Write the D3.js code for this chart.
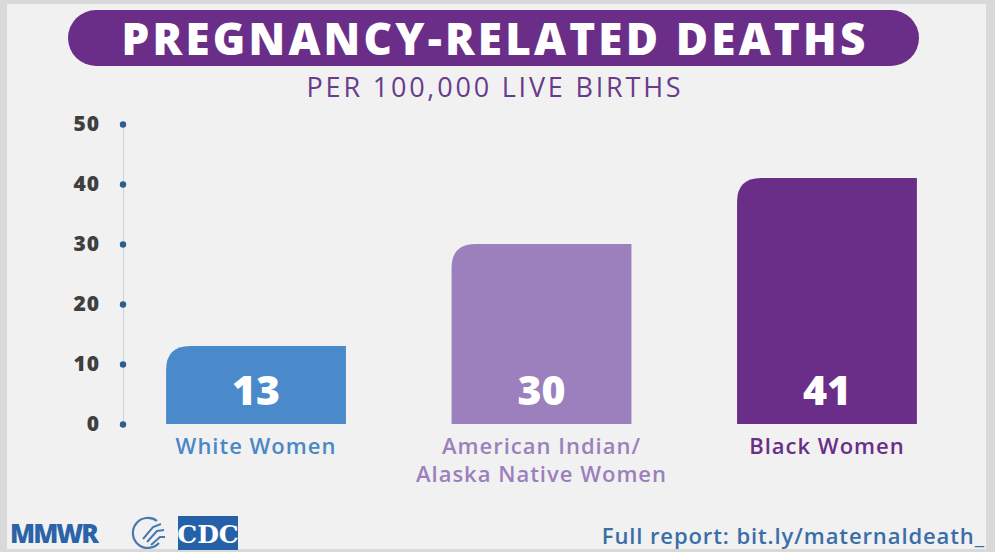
<!DOCTYPE html>
<html>
<head>
<meta charset="utf-8">
<script src="https://cdn.jsdelivr.net/npm/d3@7"></script>
<style>
  body { margin: 0; background: #d9d9d9; }
  svg { display: block; font-family: "Open Sans", "Noto Sans", sans-serif; }
</style>
</head>
<body>
<script>
// data
var groups = ["White Women", "American Indian/Alaska Native Women", "Black Women"];
var groupLines = [["White Women"], ["American Indian/", "Alaska Native Women"], ["Black Women"]];
var deaths = [13, 30, 41];
var yTicks = [0, 10, 20, 30, 40, 50];
var barColors = ["#4a8acb", "#9b80bd", "#6a2e88"];
var labelColors = ["#4a88c6", "#9b80bd", "#6a2e88"];

var W = 995, H = 552;

var svg = d3.select("body").append("svg")
    .attr("width", W)
    .attr("height", H);

// panel
svg.append("rect")
    .attr("x", 7).attr("y", 4)
    .attr("width", 979).attr("height", 545)
    .attr("fill", "#f1f1f1");

// title pill
svg.append("rect")
    .attr("x", 68).attr("y", 10)
    .attr("width", 851).attr("height", 56)
    .attr("rx", 28)
    .attr("fill", "#6a2e88");

svg.append("text")
    .attr("x", 495).attr("y", 55)
    .attr("text-anchor", "middle")
    .attr("fill", "#fff")
    .attr("letter-spacing", "3.2")
    .style("font-size", "44px")
    .style("font-weight", 800)
    .text("PREGNANCY-RELATED DEATHS");

svg.append("text")
    .attr("x", 495).attr("y", 97)
    .attr("text-anchor", "middle")
    .attr("fill", "#6a3a8c")
    .attr("letter-spacing", "2.8")
    .style("font-size", "27px")
    .style("font-weight", 400)
    .text("PER 100,000 LIVE BIRTHS");

// scales
var y = d3.scaleLinear()
    .domain([0, 50])
    .range([424, 124]);

var x = d3.scaleBand()
    .domain(groups)
    .range([109, 974])
    .paddingInner(0.37)
    .paddingOuter(0.2);

// y axis
var yAxis = svg.append("g")
    .attr("class", "y axis")
    .attr("transform", "translate(123,0)")
    .call(d3.axisLeft(y).tickValues(yTicks).tickSize(0).tickPadding(23));

yAxis.select(".domain")
    .attr("stroke", "#cfd3da")
    .attr("stroke-width", 1.2);

yAxis.selectAll(".tick text")
    .attr("fill", "#3f3f3f")
    .attr("letter-spacing", "1")
    .style("font-size", "21px")
    .style("font-weight", 800)
    .style("font-family", "'Open Sans', sans-serif");

yAxis.selectAll(".tick")
    .append("circle")
    .attr("r", 3.2)
    .attr("fill", "#2f5e8e");

// bars with rounded top-left corner
function barPath(x0, y0, w, h, r) {
  r = Math.min(r, h, w);
  return "M" + x0 + "," + (y0 + h) +
    "V" + (y0 + r) +
    "Q" + x0 + "," + y0 + " " + (x0 + r) + "," + y0 +
    "H" + (x0 + w) +
    "V" + (y0 + h) + "Z";
}

svg.selectAll(".bar")
    .data(groups)
  .enter().append("path")
    .attr("class", "bar")
    .attr("fill", function(d, i) { return barColors[i]; })
    .attr("d", function(d, i) {
      return barPath(x(d), y(deaths[i]), x.bandwidth(), y(0) - y(deaths[i]), 24);
    });

// value labels
svg.selectAll(".val")
    .data(groups)
  .enter().append("text")
    .attr("class", "val")
    .attr("x", function(d) { return x(d) + x.bandwidth() / 2; })
    .attr("y", 405)
    .attr("text-anchor", "middle")
    .attr("fill", "#fff")
    .style("font-size", "41px")
    .style("font-weight", 800)
    .text(function(d, i) { return deaths[i]; });

// category labels
groups.forEach(function(g, i) {
  var t = svg.append("text")
      .attr("x", x(g) + x.bandwidth() / 2)
      .attr("y", 454)
      .attr("text-anchor", "middle")
      .attr("fill", labelColors[i])
      .attr("letter-spacing", "1")
      .style("font-size", "22px")
      .style("font-weight", 600);
  groupLines[i].forEach(function(line, j) {
    t.append("tspan")
      .attr("x", x(g) + x.bandwidth() / 2)
      .attr("dy", j == 0 ? 0 : 28)
      .text(line);
  });
});

// footer
svg.append("text")
    .attr("x", 10).attr("y", 543)
    .attr("fill", "#2a63a8")
    .attr("letter-spacing", "-2")
    .style("font-size", "26px")
    .style("font-weight", 800)
    .text("MMWR");

// hhs mark
var hhs = svg.append("g").attr("transform", "translate(147,533)");
hhs.append("path")
    .attr("d", "M10,-12 A15,15 0 1 0 12,10")
    .attr("fill", "none")
    .attr("stroke", "#4a78b0")
    .attr("stroke-width", 2.2);
hhs.append("path")
    .attr("d", "M-4,6 L6,-6 L14,-9 M0,9 L10,-2 L17,-3 M4,12 L13,4 L18,4")
    .attr("fill", "none")
    .attr("stroke", "#4a78b0")
    .attr("stroke-width", 2);

// cdc box
svg.append("rect")
    .attr("x", 178).attr("y", 516)
    .attr("width", 60).attr("height", 34)
    .attr("fill", "#2461a8");
svg.append("text")
    .attr("x", 208).attr("y", 543)
    .attr("text-anchor", "middle")
    .attr("fill", "#fff")
    .style("font-family", "'DejaVu Serif', serif")
    .style("font-size", "25px")
    .style("font-weight", 700)
    .text("CDC");

svg.append("text")
    .attr("x", 985).attr("y", 544)
    .attr("text-anchor", "end")
    .attr("fill", "#3a6ea6")
    .attr("letter-spacing", "0.9")
    .style("font-size", "22px")
    .style("font-weight", 600)
    .text("Full report: bit.ly/maternaldeath_");
</script>
</body>
</html>
